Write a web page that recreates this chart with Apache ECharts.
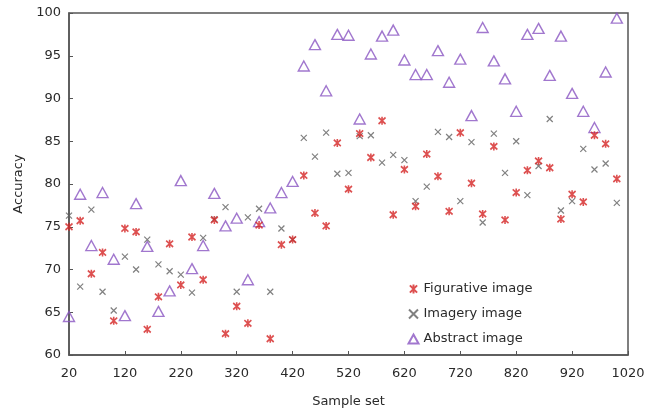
<!DOCTYPE html>
<html>
<head>
<meta charset="utf-8">
<script src="https://cdn.jsdelivr.net/npm/echarts@6/dist/echarts.min.js"></script>
<style>html,body{margin:0;padding:0;background:#fff}#c{width:649px;height:413px}</style>
</head>
<body>
<div id="c"></div>
<script>
var sampleSet = [20,40,60,80,100,120,140,160,180,200,220,240,260,280,300,320,340,360,380,400,420,440,460,480,500,520,540,560,580,600,620,640,660,680,700,720,740,760,780,800,820,840,860,880,900,920,940,960,980,1000];
var figurative = [75.0,75.7,69.5,72.0,64.0,74.8,74.4,63.0,66.8,73.0,68.2,73.8,68.8,75.8,62.5,65.7,63.7,75.2,61.9,72.9,73.5,81.0,76.6,75.1,84.8,79.4,85.9,83.1,87.4,76.4,81.7,77.4,83.5,80.9,76.8,86.0,80.1,76.5,84.4,75.8,79.0,81.6,82.7,81.9,75.9,78.8,77.9,85.7,84.7,80.6];
var imagery = [76.3,68.0,77.0,67.4,65.2,71.5,70.0,73.5,70.6,69.8,69.4,67.3,73.7,75.9,77.3,67.4,76.1,77.1,67.4,74.8,73.5,85.4,83.2,86.0,81.2,81.3,85.6,85.7,82.5,83.4,82.8,78.0,79.7,86.1,85.5,78.0,84.9,75.5,85.9,81.3,85.0,78.7,82.1,87.6,76.9,78.0,84.1,81.7,82.4,77.8];
var abstractImg = [64.5,78.8,72.8,79.0,71.2,64.6,77.7,72.7,65.1,67.5,80.4,70.1,72.8,78.9,75.1,76.0,68.8,75.6,77.2,79.0,80.3,93.8,96.3,90.9,97.5,97.4,87.6,95.2,97.3,98.0,94.5,92.8,92.8,95.6,91.9,94.6,88.0,98.3,94.4,92.3,88.5,97.5,98.2,92.7,97.3,90.6,88.5,86.6,93.1,99.4];
var xTicks = [20,120,220,320,420,520,620,720,820,920,1020];
var seriesNames = ['Figurative image','Imagery image','Abstract image'];

function pairs(ys){ return sampleSet.map(function(x,i){ return [x, ys[i]]; }); }

var FONT = 'DejaVu Sans';
var TXT = '#2a2a2a';
var chart = echarts.init(document.getElementById('c'), null, {renderer:'canvas'});
chart.setOption({
  animation:false,
  backgroundColor:'#fff',
  grid:{left:69,right:21,top:13,bottom:53,show:true,borderColor:'#555',borderWidth:1.5},
  legend:{
    orient:'vertical', left:401, top:277, itemGap:11, itemWidth:10, itemHeight:9,
    textStyle:{fontFamily:FONT,fontSize:13,color:TXT},
    data:seriesNames
  },
  xAxis:{
    type:'value', min:20, max:1020,
    name:'Sample set', nameLocation:'middle', nameGap:40,
    nameTextStyle:{fontFamily:FONT,fontSize:13,color:TXT},
    axisLine:{show:true,lineStyle:{color:'#555',width:1.5}},
    axisTick:{show:true,inside:true,length:4,lineStyle:{color:'#555'},customValues:xTicks},
    axisLabel:{fontFamily:FONT,fontSize:13,color:TXT,margin:12,customValues:xTicks,formatter:function(v){return String(v);}},
    splitLine:{show:false}
  },
  yAxis:{
    type:'value', min:60, max:100, interval:5,
    name:'Accuracy', nameLocation:'middle', nameGap:44,
    nameTextStyle:{fontFamily:FONT,fontSize:13,color:TXT},
    axisLine:{show:true,lineStyle:{color:'#555',width:1.5}},
    axisTick:{show:true,inside:true,length:4,lineStyle:{color:'#555'}},
    axisLabel:{fontFamily:FONT,fontSize:13,color:TXT,margin:8},
    splitLine:{show:false}
  },
  series:[
    {
      name:seriesNames[0], type:'scatter', data:pairs(figurative), z:3,
      symbol:'path://M0,0L8,8M8,0L0,8M4,-1L4,9', symbolSize:[7,8],
      itemStyle:{color:'none',borderColor:'#d42424',borderWidth:1.7}
    },
    {
      name:seriesNames[1], type:'scatter', data:pairs(imagery), z:2,
      symbol:'path://M0,0L8,8M8,0L0,8', symbolSize:6,
      itemStyle:{color:'none',borderColor:'#606060',borderWidth:1.2}
    },
    {
      name:seriesNames[2], type:'scatter', data:pairs(abstractImg), z:1,
      symbol:'triangle', symbolSize:[11,10],
      itemStyle:{color:'none',borderColor:'#8a55c2',borderWidth:1.4}
    }
  ]
});
</script>
</body>
</html>
